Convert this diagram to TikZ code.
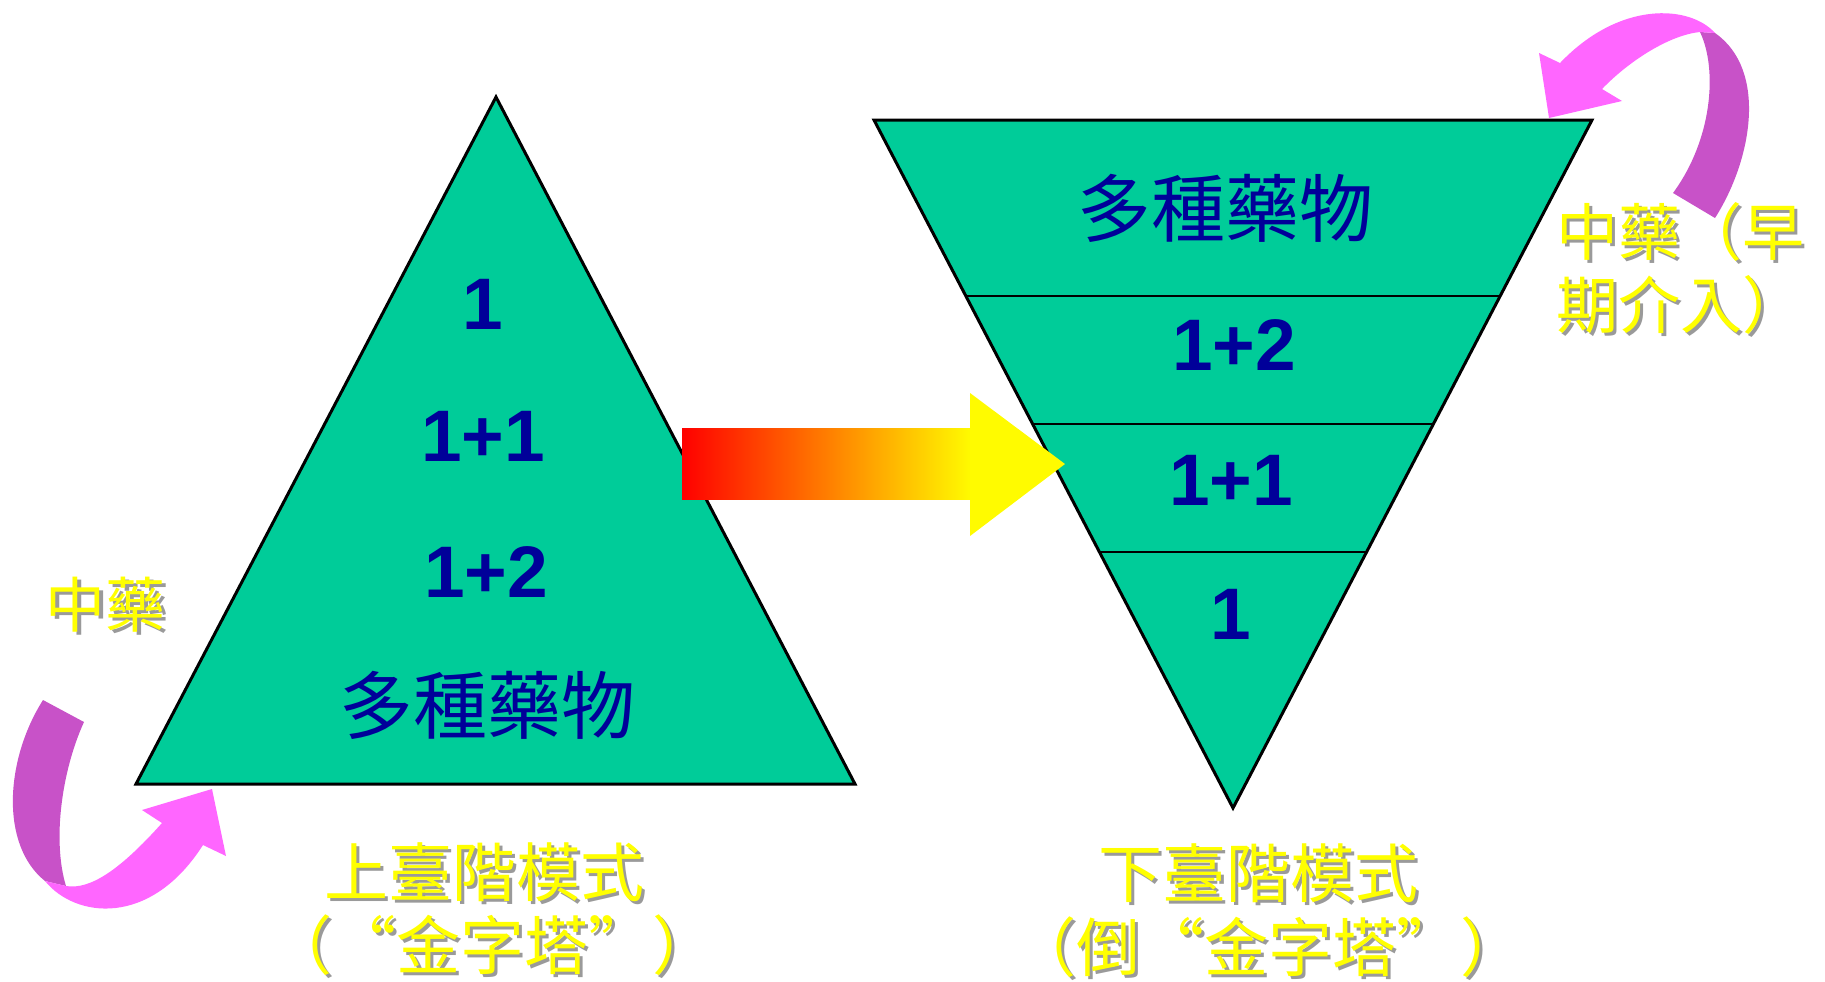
\documentclass[tikz,border=0pt]{standalone}
\usepackage{fontspec}
\setmainfont{Liberation Sans}
\newfontfamily\cjk{Noto Sans CJK TC}
\usetikzlibrary{calc}
\definecolor{tgreen}{HTML}{00CC99}
\definecolor{dblue}{HTML}{000099}
\definecolor{ylw}{HTML}{FFFF00}
\definecolor{shgray}{HTML}{9A9A9A}
\definecolor{darkpurple}{HTML}{C852C8}
\definecolor{pinkish}{HTML}{FF66FF}
\tikzset{
  tri/.style={fill=tgreen, draw=black, line width=1.5pt, line join=miter},
  sepline/.style={draw=black, line width=1.2pt},
  num/.style={font=\fontsize{36.5}{40}\selectfont\bfseries, text=dblue, inner sep=0pt},
  cjkblue/.style={font=\cjk\fontsize{37}{40}\selectfont, text=dblue, inner sep=0pt},
  ylabel/.style={font=\cjk\fontsize{32}{36}\selectfont, text=ylw, inner sep=0pt},
  yshadow/.style={font=\cjk\fontsize{32}{36}\selectfont, text=shgray, inner sep=0pt},
  backband/.style={fill=darkpurple, draw=none},
  frontband/.style={fill=pinkish, draw=none},
}
\newcommand\shlabel[4][]{%
  \node[yshadow,#1] (#2-s) at ($(#3)+(3,3)$) {#4};
  \node[ylabel,#1] (#2) at (#3) {#4};}
\begin{document}
\begin{tikzpicture}[x=0.5pt,y=-0.5pt]
\useasboundingbox (0,0) rectangle (1825,981);
% ---- left triangle (upright)
\coordinate (La) at (496,97);
\coordinate (Ll) at (136,784);
\coordinate (Lr) at (855,784);
\draw[tri] (La) -- (Lr) -- (Ll) -- cycle;
% ---- right triangle (inverted)
\coordinate (Rl) at (874,120);
\coordinate (Rr) at (1592,120);
\coordinate (Rb) at (1233,808);
\draw[tri] (Rl) -- (Rr) -- (Rb) -- cycle;
\foreach \t/\n in {0.256/a,0.442/b,0.628/c}{
  \coordinate (s\n l) at ($(Rl)!\t!(Rb)$);
  \coordinate (s\n r) at ($(Rr)!\t!(Rb)$);
  \draw[sepline] (s\n l) -- (s\n r);
}
% ---- texts in left triangle
\node[num] (l1) at (483,304) {1};
\node[num] (l11) at (483,436) {1+1};
\node[num] (l12) at (486,572) {1+2};
\node[cjkblue] (lm) at (487,705) {多種藥物};
% ---- texts in right triangle
\node[cjkblue] (rm) at (1225,208) {多種藥物};
\node[num] (r12) at (1234,345) {1+2};
\node[num] (r11) at (1231,480) {1+1};
\node[num] (r1) at (1231,614) {1};
% ---- gradient arrow
\shade[left color=red, right color=ylw!97!orange] (682,428) rectangle (971,499);
\fill[ylw!97!orange] (970,393) -- (1065,464) -- (970,536) -- cycle;
% ---- bottom-left curved arrow
\path[backband] (43,700) -- (84,722) .. controls (62,770) and (52,840) .. (66,886)
   -- (45,881) .. controls (0,845) and (5,760) .. (43,700) -- cycle;
\path[frontband] (45,881) .. controls (75,918) and (150,928) .. (203,845)
   -- (226,856) -- (212,789) -- (142,810) -- (162,823)
   .. controls (120,870) and (90,890) .. (66,886) -- cycle;
% ---- top-right curved arrow
\path[backband] (1673,193) -- (1715,218) .. controls (1752,160) and (1768,70) .. (1715,33)
   -- (1700,32) .. controls (1718,70) and (1712,140) .. (1673,193) -- cycle;
\path[frontband] (1715,33) .. controls (1690,5) and (1620,0) .. (1560,63)
   -- (1539,53) -- (1549,118) -- (1622,101) -- (1602,89)
   .. controls (1630,60) and (1670,35) .. (1700,32) -- cycle;
% ---- yellow labels
\shlabel[font=\cjk\fontsize{30}{34}\selectfont]{zyL}{106,605}{中藥}
\shlabel[anchor=west,font=\cjk\fontsize{31}{34}\selectfont]{zyR1}{1556,232}{中藥（早}
\shlabel[anchor=west,font=\cjk\fontsize{31}{34}\selectfont]{zyR2}{1556,305}{期介入）}
\shlabel{upT}{484,872}{上臺階模式}
\shlabel{upB}{492,945}{（“金字塔”）}
\shlabel{dnT}{1258,873}{下臺階模式}
\shlabel{dnB}{1268,947}{（倒“金字塔”）}
\end{tikzpicture}
\end{document}
